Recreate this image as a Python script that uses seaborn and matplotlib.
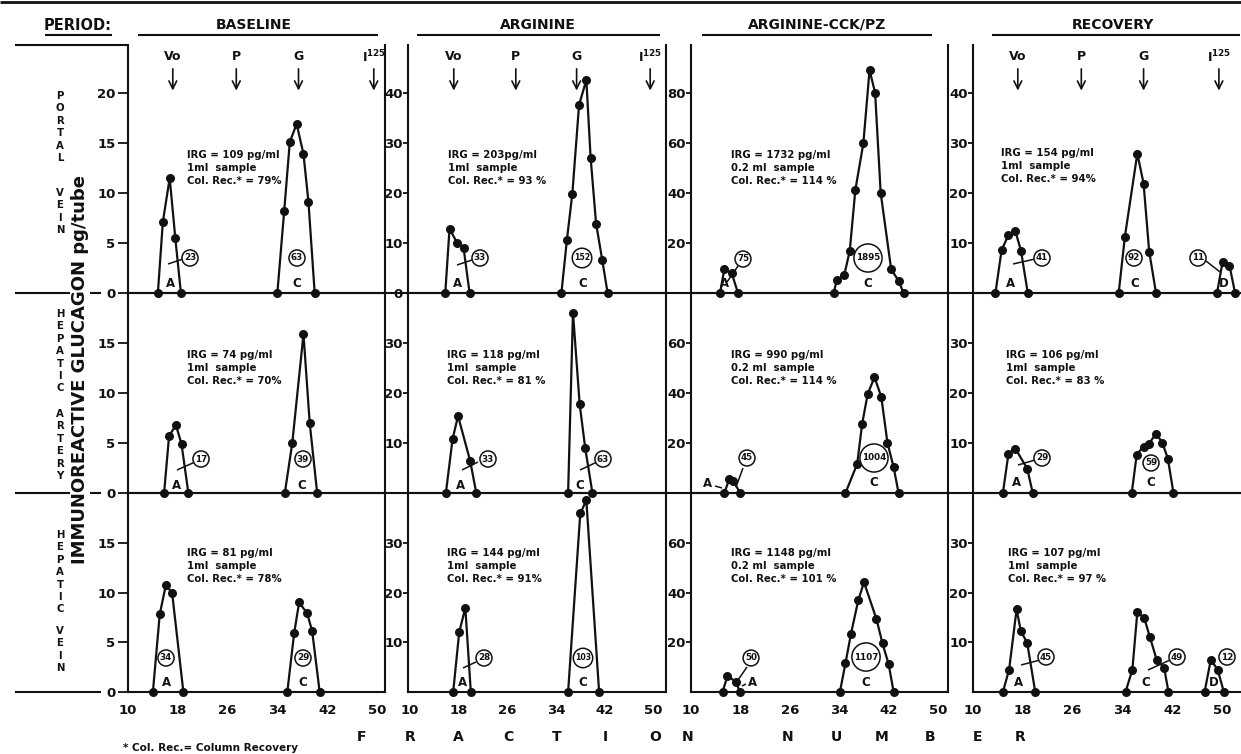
import matplotlib
matplotlib.use("Agg")
import matplotlib.pyplot as plt
from matplotlib.lines import Line2D
import seaborn as sns

sns.set_style("ticks")
plt.rcParams['font.family'] = ['DejaVu Sans']
plt.rcParams['font.weight'] = 'bold'

W, H = 1241, 754
INK = '#111111'

# ---------------- data (fraction number, pg/tube) ----------------
periods = ["BASELINE", "ARGININE", "ARGININE-CCK/PZ", "RECOVERY"]
vessels = [["PORTAL", "VEIN"], ["HEPATIC", "ARTERY"], ["HEPATIC", "VEIN"]]
fraction_ticks = [10, 18, 26, 34, 42, 50]
marker_names = ["Vo", "P", "G", r"I$^{\mathbf{125}}$"]
marker_fracs = [17.2, 27.4, 37.4, 49.5]

baseline_pv = {"A": ([14.8, 15.6, 16.7, 17.6, 18.5], [0, 7.1, 11.5, 5.5, 0]),
               "C": ([34.0, 35.1, 36.0, 37.1, 38.2, 39.0, 40.0], [0, 8.2, 15.1, 16.9, 13.9, 9.1, 0])}
baseline_ha = {"A": ([15.8, 16.6, 17.7, 18.6, 19.7], [0, 5.7, 6.8, 4.9, 0]),
               "C": ([35.2, 36.4, 38.2, 39.2, 40.4], [0, 5.0, 15.9, 7.0, 0])}
baseline_hv = {"A": ([14.0, 15.1, 16.1, 17.1, 18.9], [0, 7.8, 10.8, 9.9, 0]),
               "C": ([35.6, 36.7, 37.5, 38.8, 39.6, 40.8], [0, 5.9, 9.0, 7.9, 6.1, 0])}

arginine_pv = {"A": ([15.8, 16.5, 17.7, 18.8, 19.8], [0, 12.9, 10.1, 9.1, 0]),
               "C": ([34.9, 35.8, 36.7, 37.8, 39.0, 39.7, 40.6, 41.6, 42.5],
                     [0, 10.6, 19.9, 37.6, 42.6, 27.1, 13.9, 6.7, 0])}
arginine_ha = {"A": ([15.9, 17.0, 17.9, 19.9, 20.9], [0, 10.8, 15.4, 6.4, 0]),
               "C": ([36.0, 36.8, 37.9, 38.8, 40.0], [0, 36.1, 17.8, 9.1, 0])}
arginine_hv = {"A": ([17.1, 18.1, 19.1, 20.0], [0, 12.1, 16.9, 0]),
               "C": ([36.0, 38.0, 39.0, 41.1], [0, 35.9, 38.5, 0])}

cck_pv = {"A": ([14.7, 15.4, 16.6, 17.6], [0, 9.5, 7.9, 0]),
          "C": ([33.1, 33.6, 34.8, 35.7, 36.6, 37.9, 38.9, 39.8, 40.7, 42.4, 43.6, 44.4],
                [0, 5.2, 7.1, 16.9, 41.2, 59.9, 89.2, 80.1, 40.1, 9.5, 4.9, 0])}
cck_ha = {"A": ([15.4, 16.2, 16.8, 18.0], [0, 5.6, 4.8, 0]),
          "C": ([35.0, 36.9, 37.7, 38.6, 39.7, 40.8, 41.8, 42.8, 43.6],
                [0, 11.6, 27.6, 39.6, 46.3, 38.5, 20.1, 10.3, 0])}
cck_hv = {"A": ([15.1, 15.9, 17.3, 17.9], [0, 6.4, 4.1, 0]),
          "C": ([34.1, 35.0, 35.9, 37.1, 38.0, 40.0, 41.0, 42.0, 42.8],
                [0, 11.5, 23.5, 37.1, 44.1, 29.5, 19.5, 11.1, 0])}

recovery_pv = {"A": ([13.6, 14.6, 15.7, 16.8, 17.7, 18.8], [0, 8.6, 11.6, 12.4, 8.5, 0]),
               "C": ([33.4, 34.4, 36.4, 37.4, 38.3, 39.4], [0, 11.3, 27.9, 21.9, 8.3, 0]),
               "D": ([49.2, 50.1, 51.2, 52.1], [0, 6.3, 5.5, 0])}
recovery_ha = {"A": ([14.8, 15.7, 16.8, 18.7, 19.6], [0, 7.9, 8.9, 4.9, 0]),
               "C": ([35.5, 36.3, 37.4, 38.3, 39.4, 40.4, 41.3, 42.2],
                     [0, 7.7, 9.3, 9.9, 11.9, 10.1, 6.9, 0])}
recovery_hv = {"A": ([14.8, 15.8, 17.0, 17.7, 18.7, 20.0], [0, 4.5, 16.6, 12.2, 9.9, 0]),
               "C": ([34.5, 35.6, 36.4, 37.5, 38.4, 39.5, 40.7, 41.4],
                     [0, 4.5, 16.1, 14.9, 11.1, 6.5, 4.9, 0]),
               "D": ([47.2, 48.2, 49.3, 50.3], [0, 6.5, 4.5, 0])}

grid = [[baseline_pv, arginine_pv, cck_pv, recovery_pv],
        [baseline_ha, arginine_ha, cck_ha, recovery_ha],
        [baseline_hv, arginine_hv, cck_hv, recovery_hv]]

irg = [["IRG = 109 pg/ml", "IRG = 203pg/ml", "IRG = 1732 pg/ml", "IRG = 154 pg/ml"],
       ["IRG = 74 pg/ml", "IRG = 118 pg/ml", "IRG = 990 pg/ml", "IRG = 106 pg/ml"],
       ["IRG = 81 pg/ml", "IRG = 144 pg/ml", "IRG = 1148 pg/ml", "IRG = 107 pg/ml"]]
sample = ["1ml  sample", "1ml  sample", "0.2 ml  sample", "1ml  sample"]
col_rec = [["79%", "93 %", "114 %", "94%"],
           ["70%", "81 %", "114 %", "83 %"],
           ["78%", "91%", "101 %", "97 %"]]

yticks_top = [[0, 5, 10, 15, 20], [0, 10, 20, 30, 40], [20, 40, 60, 80], [10, 20, 30, 40]]
yticks_low = [[0, 5, 10, 15], [10, 20, 30], [20, 40, 60], [10, 20, 30]]

# circled peak totals: (label, x px, y px, leader line or None)
circles = [
    [[("23", 190, 258, (168, 264, 183, 259)), ("63", 297, 258, None)],
     [("33", 480, 258, (457, 265, 472, 260)), ("152", 582, 258, None)],
     [("75", 743, 259, (727, 282, 738, 266)), ("1895", 868, 258, None)],
     [("41", 1042, 258, (1013, 264, 1035, 259)), ("92", 1134, 258, None),
      ("11", 1198, 258, (1206, 261, 1220, 272))]],
    [[("17", 201, 459, (177, 470, 195, 462)), ("39", 303, 459, None)],
     [("33", 488, 459, (462, 470, 478, 462)), ("63", 603, 459, (580, 470, 597, 462))],
     [("45", 747, 458, (736, 487, 743, 468)), ("1004", 874, 458, None)],
     [("29", 1042, 458, (1018, 465, 1035, 460)), ("59", 1151, 463, None)]],
    [[("34", 166, 658, None), ("29", 303, 658, None)],
     [("28", 484, 658, (463, 668, 476, 662)), ("103", 583, 658, None)],
     [("50", 751, 658, (738, 680, 747, 667)), ("1107", 866, 657, None)],
     [("45", 1046, 657, (1021, 665, 1040, 660)), ("49", 1177, 657, (1148, 670, 1170, 660)),
      ("12", 1227, 657, None)]],
]
peak_letters = [
    [[("A", 170, 283), ("C", 297, 283)], [("A", 458, 283), ("C", 583, 283)],
     [("A", 724, 283), ("C", 868, 283)], [("A", 1011, 283), ("C", 1135, 283), ("D", 1224, 283)]],
    [[("A", 177, 485), ("C", 302, 485)], [("A", 460, 485), ("C", 580, 485)],
     [("A", 708, 484), ("C", 874, 483)], [("A", 1017, 483), ("C", 1151, 483)]],
    [[("A", 167, 683), ("C", 303, 683)], [("A", 463, 683), ("C", 583, 683)],
     [("A", 752, 683), ("C", 866, 683)], [("A", 1019, 683), ("C", 1146, 683), ("D", 1214, 683)]],
]
# short ticks tying a peak letter to its peak
letter_dashes = [(715, 486, 722, 488), (742, 686, 746, 684)]

# ---------------- layout (pixels) ----------------
col_left = [128, 408, 691, 973]
col_right = [385, 666, 948, 1241]
row_top = [45, 293, 493]
row_bot = [293, 493, 692]
xlims = [(10.0, 51.3), (9.67, 52.1), (10.16, 51.6), (10.0, 53.05)]
scale = [1, 2, 4, 2]
row_ymax = [24.8, 20, 20]
text_pos = [[(187, 150), (448, 150), (731, 150), (1001, 148)],
            [(187, 350), (447, 350), (731, 350), (1006, 350)],
            [(187, 548), (447, 548), (731, 548), (1008, 548)]]


def fx(x):
    return x / W


def fy(y):
    return 1 - y / H


fig = plt.figure(figsize=(W / 100, H / 100), dpi=100)


def fig_line(x0, y0, x1, y1, lw=1.5):
    fig.add_artist(Line2D([fx(x0), fx(x1)], [fy(y0), fy(y1)], transform=fig.transFigure,
                          color=INK, lw=lw, solid_capstyle='butt'))


for r in range(3):
    for c in range(4):
        ax = fig.add_axes([fx(col_left[c]), fy(row_bot[r]),
                           (col_right[c] - col_left[c]) / W, (row_bot[r] - row_top[r]) / H])
        ax.set_facecolor('none')
        for letter, (xs, ys) in grid[r][c].items():
            sns.lineplot(x=xs, y=ys, ax=ax, color=INK, linewidth=1.6, marker='o',
                         markersize=6.5, markeredgewidth=0, sort=False, estimator=None,
                         clip_on=False, zorder=4)
        ax.set_xlim(*xlims[c])
        ax.set_ylim(0, row_ymax[r] * scale[c])
        ax.set_yticks(yticks_top[c] if r == 0 else yticks_low[c])
        ax.set_xticks(fraction_ticks)
        for s in ax.spines.values():
            s.set_linewidth(1.5)
            s.set_color(INK)
        ax.spines['top'].set_visible(False)
        ax.spines['right'].set_visible(c < 3)
        ax.tick_params(axis='y', direction='out', length=7 if c == 0 else 3.5, width=1.3,
                       pad=2 if c == 0 else 0.5, labelsize=9.5, colors=INK)
        if r == 2:
            ax.tick_params(axis='x', length=0, pad=9, labelsize=9.5, colors=INK)
        else:
            ax.tick_params(axis='x', length=0, labelbottom=False)
        for lab in ax.get_xticklabels() + ax.get_yticklabels():
            lab.set_fontweight('bold')
        ax.set_xlabel('')
        ax.set_ylabel('')

        # column markers (row 1 only, not for ARGININE-CCK/PZ)
        if r == 0 and c != 2:
            for name, fr in zip(marker_names, marker_fracs):
                ax.annotate('', xy=(fr, 0.805), xytext=(fr, 0.915),
                            xycoords=('data', 'axes fraction'),
                            arrowprops=dict(arrowstyle='->', lw=1.2, color=INK,
                                            mutation_scale=14))
                ax.text(fr, 0.952, name, transform=ax.get_xaxis_transform(), ha='center',
                        va='center', fontsize=9, color=INK)

        # IRG annotation block
        tx, ty = text_pos[r][c]
        fig.text(fx(tx), fy(ty), f"{irg[r][c]}\n{sample[c]}\nCol. Rec.* = {col_rec[r][c]}",
                 ha='left', va='top', fontsize=7.3, linespacing=1.4, color=INK)

        for lab, x, y, lead in circles[r][c]:
            fs = 6.3 if len(lab) <= 2 else (5.6 if len(lab) == 3 else 6.3)
            fig.text(fx(x), fy(y), lab, ha='center', va='center', fontsize=fs, color=INK,
                     bbox=dict(boxstyle='circle,pad=0.22', fc='white', ec=INK, lw=1.1),
                     zorder=6)
            if lead is not None:
                fig_line(*lead, lw=1.1)
        for lab, x, y in peak_letters[r][c]:
            fig.text(fx(x), fy(y), lab, ha='center', va='center', fontsize=8.5, color=INK,
                     zorder=6)

for d in letter_dashes:
    fig_line(*d, lw=1.1)

# zero lines continuing across the gaps between periods
for y in (293, 493):
    fig_line(128, y, 1241, y)

# left margin rules
fig_line(15, 45, 128, 45)
for y in (293, 493, 692):
    fig_line(15, y, 101, y)
fig_line(0, 1.5, W, 1.5, lw=2)

# period headers
fig.text(fx(78), fy(25), "PERIOD:", ha='center', va='center', fontsize=10.5, color=INK)
fig_line(45, 35, 112, 35)
header_x = [254, 538, 817, 1113]
header_span = [(138, 378), (417, 660), (702, 932), (992, 1240)]
for name, hx, (a, b) in zip(periods, header_x, header_span):
    fig.text(fx(hx), fy(25), name, ha='center', va='center', fontsize=10, color=INK)
    fig_line(a, 35, b, 35)

# vessel labels, letters stacked
vessel_start = [(96, 193), (314, 414), (535, 631)]
for words, starts in zip(vessels, vessel_start):
    for word, y0 in zip(words, starts):
        for i, ch in enumerate(word):
            fig.text(fx(60), fy(y0 + i * 12.4), ch, ha='center', va='center',
                     fontsize=7.3, color=INK)

fig.text(fx(80), fy(370), "IMMUNOREACTIVE GLUCAGON pg/tube", rotation=90, ha='center',
         va='center', fontsize=13, color=INK,
         bbox=dict(boxstyle='square,pad=0.05', fc='white', ec='none'), zorder=5)

# spread-out axis title
xlabel_x = [362, 410, 458, 508, 557, 605, 655, 688, 788, 836, 882, 930, 977, 1020]
for ch, x in zip("FRACTIONNUMBER", xlabel_x):
    fig.text(fx(x), fy(737), ch, ha='center', va='center', fontsize=10, color=INK)

fig.text(fx(123), fy(748), "* Col. Rec.= Column Recovery", ha='left', va='center',
         fontsize=7.5, color=INK)

fig.savefig("out.png", dpi=100, facecolor='white')
